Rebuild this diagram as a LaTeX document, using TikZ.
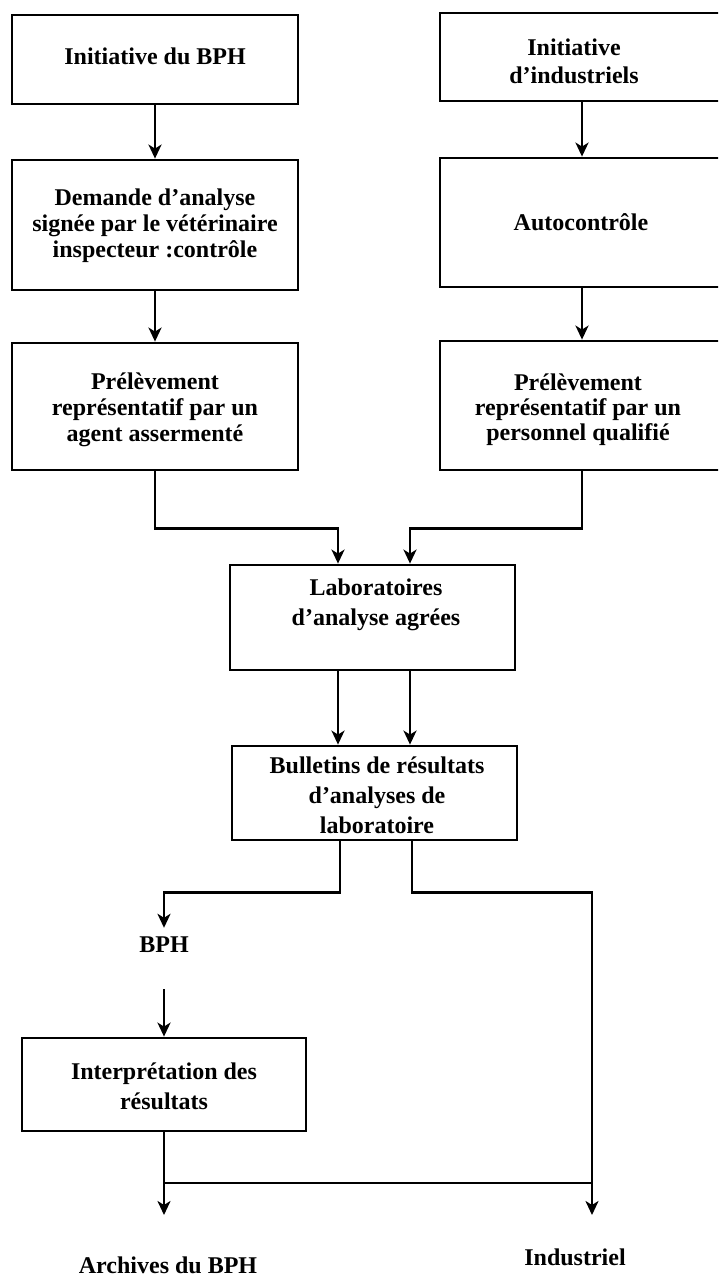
\documentclass[tikz,border=0pt]{standalone}
\usepackage{fontspec}
\setmainfont{Liberation Serif}
\usetikzlibrary{arrows.meta}
\begin{document}
\begin{tikzpicture}[x=1pt,y=-1pt,
  box/.style={draw, line width=2.8pt, rectangle, inner sep=0pt},
  txt/.style={align=center, inner sep=0pt, font=\fontsize{24}{27}\selectfont\bfseries},
  arr/.style={line width=2.8pt, -{Stealth[length=14pt,width=13pt,inset=4pt]}},
  ln/.style={line width=2.8pt},
]
\useasboundingbox (0,0) rectangle (718,1280);
\clip (0,0) rectangle (718,1280);
\fill[white] (0,0) rectangle (718,1280);

% left column boxes
\node[box, minimum width=286pt, minimum height=89pt]  (b1) at (155,59.5) {};
\node[box, minimum width=286pt, minimum height=130pt] (b2) at (155,225) {};
\node[box, minimum width=286pt, minimum height=127pt] (b3) at (155,406.5) {};
% right column boxes (cut by the page edge)
\node[box, minimum width=290pt, minimum height=88pt]  (bA) at (585,57) {};
\node[box, minimum width=290pt, minimum height=129pt] (bB) at (585,222.5) {};
\node[box, minimum width=290pt, minimum height=129pt] (b4) at (585,405.5) {};
% centre boxes
\node[box, minimum width=285pt, minimum height=105pt] (lab) at (372.5,617.5) {};
\node[box, minimum width=285pt, minimum height=94pt]  (bul) at (374.5,793) {};
\node[box, minimum width=284pt, minimum height=93pt]  (int) at (164,1084.5) {};

% texts
\node[txt] (t1) at (155,56) {Initiative du BPH};
\node[txt, font=\fontsize{24}{26}\selectfont\bfseries] (t2) at (155,226) {Demande d'analyse\\signée par le vétérinaire\\inspecteur :contrôle};
\node[txt, font=\fontsize{24}{26}\selectfont\bfseries] (t3) at (155,410) {Prélèvement\\représentatif par un\\agent assermenté};
\node[txt, font=\fontsize{24}{28}\selectfont\bfseries] (tA) at (574,61) {Initiative\\d'industriels};
\node[txt] (tB) at (581,222) {Autocontrôle};
\node[txt, font=\fontsize{24}{25}\selectfont\bfseries] (t4) at (578,410) {Prélèvement\\représentatif par un\\personnel qualifié};
\node[txt, font=\fontsize{24}{30}\selectfont\bfseries] (tlab) at (376,605) {Laboratoires\\d'analyse agrées};
\node[txt, font=\fontsize{24}{30}\selectfont\bfseries] (tbul) at (377,795) {Bulletins de résultats\\d'analyses de\\laboratoire};
\node[txt, minimum height=34pt] (bph) at (164,945) {BPH};
\node[txt, font=\fontsize{24}{30}\selectfont\bfseries] (tint) at (164,1086) {Interprétation des\\résultats};
\node[txt] (arch) at (168,1265) {Archives du BPH};
\node[txt] (ind) at (575,1257) {Industriel};

% helper coordinates
\coordinate (cR) at (582,0);
\coordinate (xL) at (338,0);
\coordinate (xR) at (410,0);
\coordinate (xL2) at (340,0);
\coordinate (xR2) at (412,0);
\coordinate (archTip) at (164,1215);
\coordinate (indTip) at (592,1215);
\coordinate (jL) at (164,1183);
\coordinate (jR) at (592,1183);

% connectors
\draw[arr] (b1) -- (b2);
\draw[arr] (b2) -- (b3);
\draw[arr] (bA.south -| cR) -- (bB.north -| cR);
\draw[arr] (bB.south -| cR) -- (b4.north -| cR);
\draw[arr] (b3.south) -- ++(0,57) -| (lab.north -| xL);
\draw[arr] (b4.south -| cR) -- ++(0,57) -| (lab.north -| xR);
\draw[arr] (lab.south -| xL) -- (bul.north -| xL);
\draw[arr] (lab.south -| xR) -- (bul.north -| xR);
\draw[arr] (bul.south -| xL2) -- ++(0,51) -| (bph.north);
\draw[arr] ([yshift=-27pt]bph.south) -- (int.north);
\draw[arr] (int.south) -- (archTip);
\draw[ln] (jL) -- (jR);
\draw[arr] (bul.south -| xR2) -- ++(0,51) -| (indTip);
\end{tikzpicture}
\end{document}
